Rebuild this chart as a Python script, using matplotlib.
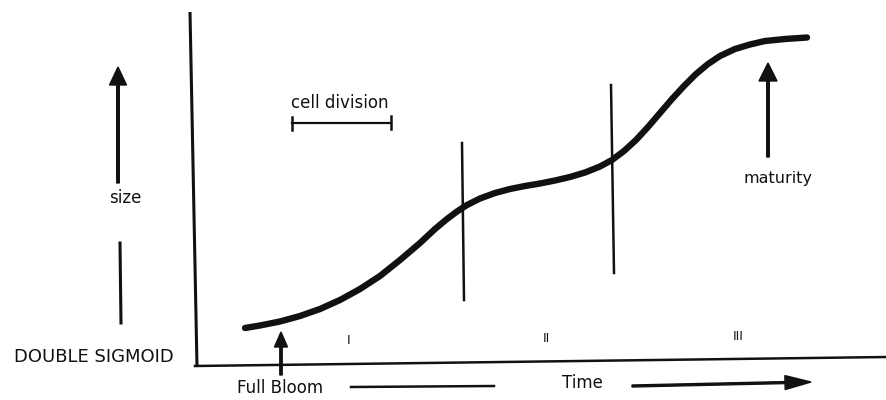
import matplotlib.pyplot as plt

plt.rcParams['font.family'] = ['DejaVu Sans']

# growth curve (x = time, y = size; picture units, y grows downward)
curve_x = [245, 260, 280, 300, 320, 340, 360, 380, 400, 420, 435, 447, 457, 467,
           480, 495, 510, 525, 540, 555, 570, 585, 600, 612, 624, 636, 648, 660,
           672, 684, 696, 708, 720, 735, 750, 765, 785, 807]
curve_y = [328, 325.5, 321.5, 316, 309, 300, 289, 276, 260, 243, 229, 219, 211.5, 205,
           198.5, 193, 189, 186, 183.5, 180.5, 177, 172.5, 166.5, 160, 151, 140, 127, 113,
           99, 86, 74, 64, 56, 49, 44.5, 41, 39, 37.5]

# stage boundaries: (x top, y top, x bottom, y bottom)
stage_lines = [(462, 143, 464, 300), (611, 85, 614, 273)]
stage_labels = ['I', 'II', 'III']
stage_label_x = [349, 546, 738]
stage_label_y = [340, 338, 337]

ink = '#111111'

fig = plt.figure(figsize=(8.87, 4.0), dpi=100)
ax = fig.add_axes([0, 0, 1, 1])
ax.set_xlim(0, 887)
ax.set_ylim(400, 0)
ax.axis('off')

# axes frame
ax.plot([190, 197], [12, 367], color=ink, lw=2.2, solid_capstyle='butt')
ax.plot([195, 887], [366, 357], color=ink, lw=1.8)

# the double sigmoid curve
ax.plot(curve_x, curve_y, color=ink, lw=4.6, solid_capstyle='round',
        solid_joinstyle='round')

# stage boundaries and labels
for x0, y0, x1, y1 in stage_lines:
    ax.plot([x0, x1], [y0, y1], color=ink, lw=1.8)
for lab, lx, ly in zip(stage_labels, stage_label_x, stage_label_y):
    ax.text(lx, ly, lab, ha='center', va='center', fontsize=9, color=ink)

# cell division bracket
ax.text(340, 103, 'cell division', ha='center', va='center', fontsize=12, color=ink)
ax.plot([292, 391], [123, 123], color=ink, lw=1.6)
ax.plot([292, 292], [117, 130], color=ink, lw=1.8)
ax.plot([391, 391], [116, 129], color=ink, lw=1.8)

# size arrow on the left
ax.arrow(118, 183, 0, -116, width=2.6, head_width=17, head_length=18,
         length_includes_head=True, color=ink)
ax.text(125, 198, 'size', ha='center', va='center', fontsize=12, color=ink)
ax.plot([120, 121], [243, 323], color=ink, lw=2.2)
ax.text(94, 357, 'DOUBLE SIGMOID', ha='center', va='center', fontsize=13, color=ink)

# full bloom arrow
ax.arrow(281, 375, 0, -43, width=2.4, head_width=13, head_length=15,
         length_includes_head=True, color=ink)
ax.text(280, 388, 'Full Bloom', ha='center', va='center', fontsize=12, color=ink)
ax.plot([351, 494], [387, 386], color=ink, lw=1.8)

# time arrow
ax.text(582, 383, 'Time', ha='center', va='center', fontsize=12, color=ink)
ax.arrow(632, 386, 179, -4, width=2.0, head_width=14, head_length=26,
         length_includes_head=True, color=ink)

# maturity arrow
ax.arrow(768, 157, 0, -94, width=2.6, head_width=18, head_length=18,
         length_includes_head=True, color=ink)
ax.text(778, 179, 'maturity', ha='center', va='center', fontsize=11.5, color=ink)

fig.savefig('out.png', dpi=100)
